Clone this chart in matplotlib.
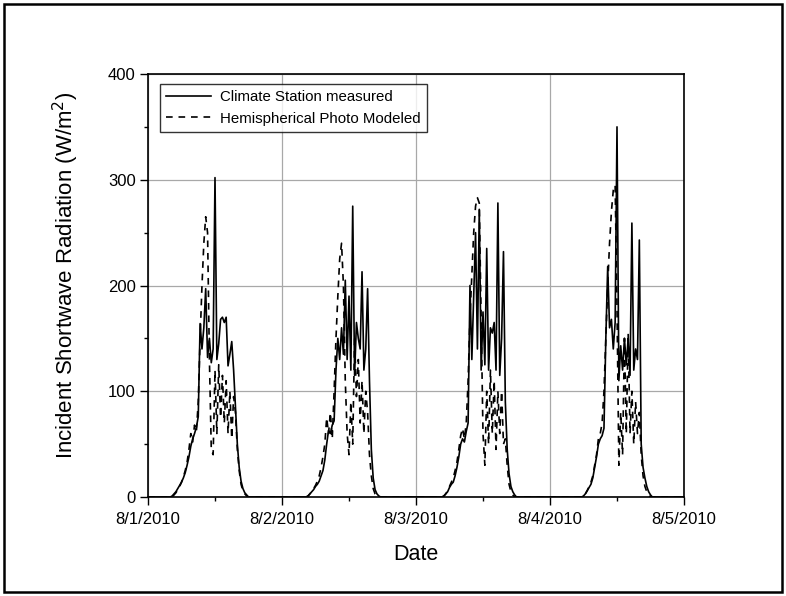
import matplotlib
matplotlib.use("Agg")
import matplotlib.pyplot as plt
import numpy as np
from matplotlib.patches import Rectangle
from matplotlib.ticker import MultipleLocator

plt.rcParams['font.family'] = ['Liberation Sans', 'DejaVu Sans']

# time grid: hours of day (20-minute steps from 04:00)
hours = [4 + k / 3 for k in range(48)]
date_labels = ["8/1/2010", "8/2/2010", "8/3/2010", "8/4/2010", "8/5/2010"]

# Climate Station measured (W/m2), one list per day
measured_d1 = [0, 1, 3, 5, 8, 11, 14, 18, 23, 30, 38, 48, 55, 60, 66, 76,
               164, 140, 160, 197, 132, 150, 127, 140, 302, 130, 145, 168, 170, 165, 170, 124,
               135, 147, 120, 85, 50, 28, 15, 8, 4, 2, 0, 0, 0, 0, 0, 0]
measured_d2 = [0, 0, 1, 3, 5, 7, 10, 12, 15, 20, 25, 35, 50, 63, 60, 68,
               72, 120, 150, 130, 160, 135, 205, 130, 190, 120, 275, 115, 165, 150, 140, 213,
               120, 140, 197, 110, 45, 18, 7, 3, 1, 0, 0, 0, 0, 0, 0, 0]
measured_d3 = [0, 0, 0, 1, 3, 5, 9, 12, 14, 20, 28, 38, 50, 55, 52, 62,
               70, 200, 130, 190, 250, 140, 272, 120, 175, 125, 235, 120, 160, 155, 165, 120,
               278, 115, 150, 232, 90, 45, 22, 10, 5, 2, 0, 0, 0, 0, 0, 0]
measured_d4 = [0, 0, 0, 0, 0, 0, 1, 3, 6, 9, 12, 18, 28, 38, 50, 55,
               58, 65, 150, 218, 160, 168, 140, 165, 350, 110, 143, 120, 150, 125, 150, 115,
               259, 120, 140, 130, 243, 50, 28, 18, 10, 5, 2, 0, 0, 0, 0, 0]

# Hemispherical Photo Modeled (W/m2)
modeled_d1 = [0, 0, 2, 4, 7, 10, 14, 19, 25, 33, 45, 60, 52, 68, 62, 90,
              150, 200, 240, 265, 250, 130, 45, 40, 120, 60, 125, 75, 115, 70, 110, 60,
              100, 55, 95, 80, 45, 25, 12, 6, 3, 1, 0, 0, 0, 0, 0, 0]
modeled_d2 = [0, 0, 1, 3, 5, 8, 11, 15, 20, 28, 38, 50, 75, 60, 80, 55,
              100, 150, 190, 225, 240, 200, 110, 60, 40, 90, 50, 150, 95, 130, 70, 110,
              60, 100, 80, 40, 20, 8, 3, 1, 0, 0, 0, 0, 0, 0, 0, 0]
modeled_d3 = [0, 0, 0, 1, 3, 6, 10, 14, 18, 25, 33, 45, 58, 65, 55, 70,
              110, 170, 210, 250, 275, 283, 278, 170, 60, 30, 100, 50, 120, 60, 110, 45,
              100, 60, 100, 50, 55, 30, 12, 5, 2, 0, 0, 0, 0, 0, 0, 0]
modeled_d4 = [0, 0, 0, 0, 0, 0, 1, 3, 6, 10, 14, 20, 30, 40, 55, 60,
              70, 100, 150, 200, 240, 270, 290, 295, 180, 30, 80, 40, 150, 60, 155, 60,
              100, 50, 90, 60, 80, 40, 20, 10, 5, 2, 0, 0, 0, 0, 0, 0]

measured_days = [measured_d1, measured_d2, measured_d3, measured_d4]
modeled_days = [modeled_d1, modeled_d2, modeled_d3, modeled_d4]


def build(days):
    t, v = [], []
    for d, vals in enumerate(days):
        t.extend([d + 0.0, d + hours[0] / 24 - 0.01])
        v.extend([0, 0])
        t.extend([d + h / 24 for h in hours])
        v.extend(vals)
        t.append(d + 0.999)
        v.append(0)
    return np.array(t), np.array(v)


tm, vm = build(measured_days)
tp, vp = build(modeled_days)

fig = plt.figure(figsize=(7.86, 5.96), dpi=100)
ax = fig.add_axes([148 / 786, 1 - 497 / 596, (684 - 148) / 786, (497 - 74) / 596])

ax.grid(True, color='#a8a8a8', linewidth=0.9)
ax.set_axisbelow(True)
ax.plot(tm, vm, color='black', linewidth=1.2, label='Climate Station measured', zorder=3)
ax.plot(tp, vp, color='black', linewidth=1.2, linestyle=(0, (4, 3.5)),
        label='Hemispherical Photo Modeled', zorder=3)

ax.set_xlim(0, 4)
ax.set_ylim(0, 400)
ax.set_xticks(range(5))
ax.set_xticklabels(date_labels)
ax.xaxis.set_minor_locator(MultipleLocator(0.5))
ax.set_yticks([0, 100, 200, 300, 400])
ax.yaxis.set_minor_locator(MultipleLocator(50))
ax.tick_params(which='major', direction='out', length=5.8, width=1, labelsize=12,
               top=False, right=False)
ax.tick_params(axis='x', which='major', pad=5)
ax.tick_params(axis='y', which='major', pad=3)
ax.tick_params(which='minor', direction='out', length=3, width=1, top=False, right=False)
ax.grid(False, which='minor')
for s in ax.spines.values():
    s.set_linewidth(1.2)

ax.set_xlabel('Date', fontsize=15.5, labelpad=12)
ax.set_ylabel('Incident Shortwave Radiation (W/m$^2$)', fontsize=16)
ax.yaxis.set_label_coords(-0.125, 0.525)

leg = ax.legend(loc='upper left', fontsize=10.8, frameon=True, fancybox=False,
                edgecolor='black', handlelength=3.0, handletextpad=0.6,
                borderpad=0.4, labelspacing=0.5, borderaxespad=0,
                bbox_to_anchor=((160 - 148) / 536, (497 - 84) / 423))
leg.get_frame().set_linewidth(1.0)

fig.patches.append(Rectangle((4 / 786, 4 / 596), 778 / 786, 588 / 596,
                             transform=fig.transFigure, fill=False,
                             edgecolor='black', linewidth=1.8))

fig.savefig('out.png', dpi=100)
